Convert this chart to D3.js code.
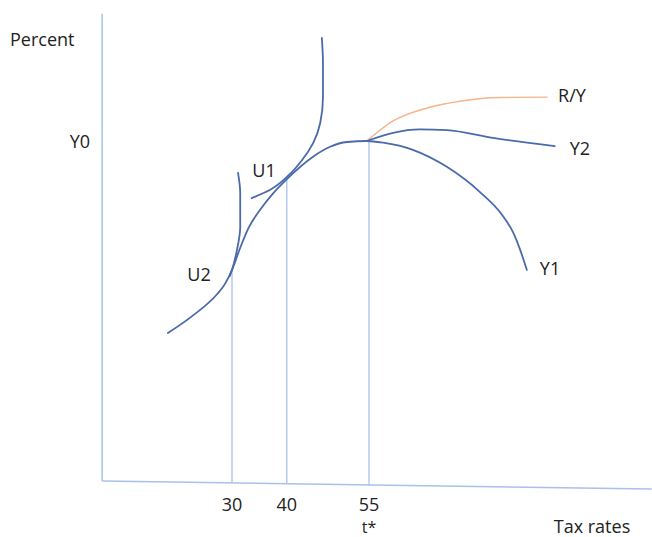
<!DOCTYPE html>
<html>
<head>
<meta charset="utf-8">
<script src="https://cdn.jsdelivr.net/npm/d3@7"></script>
<style>
  html, body { margin: 0; padding: 0; background: #fff; }
  svg text { font-family: "Open Sans", sans-serif; font-size: 18px; fill: #222; }
</style>
</head>
<body>
<svg id="chart" width="652" height="537"></svg>
<script>
// ---- data (tax rate t, percent) ----
const tickRates = [30, 40, 55];
const tickLabels = ["30", "40", "55"];
const optimumLabel = "t*";
const y0Level = 100;

// main curve: rising S through U2 and U1 tangencies, peak at t*, then falling to Y1
const curveY1 = [
  [18.3, 43.5], [22.9, 48.7], [27.3, 55.0], [28.7, 57.9], [30.0, 62.1], [31.5, 68.6],
  [33.0, 74.4], [35.1, 79.7], [37.5, 84.6], [40.2, 89.1], [44.8, 95.4],
  [47.9, 98.3], [51.0, 99.7], [54.6, 100.0], [57.6, 99.5], [63.0, 97.4],
  [69.2, 92.4], [75.3, 84.9], [79.5, 77.8], [81.3, 73.1], [82.6, 67.9], [83.8, 62.1]
];
// Y2 branch from peak
const curveY2 = [
  [54.6, 100.0], [59.4, 102.4], [64.3, 103.4], [69.2, 103.2], [77.6, 100.9], [88.9, 98.5]
];
// revenue share R/Y
const curveRY = [
  [54.6, 100.0], [59.4, 105.9], [65.6, 109.7], [71.6, 111.7], [78.9, 112.8], [87.5, 112.9]
];
// indifference curves
const curveU1 = [
  [33.6, 83.2], [36.9, 85.6], [40.2, 89.7], [42.8, 94.4], [44.8, 99.4],
  [46.1, 105.3], [46.6, 112.9], [46.6, 122.9], [46.4, 130.3]
];
const curveU2 = [
  [31.1, 90.6], [31.5, 84.7], [31.5, 74.7], [30.9, 67.9], [30.0, 62.1], [29.6, 60.3]
];
// drop lines: [rate, height]
const dropLines = [[30, 62.1], [40, 89.1], [55, 100.0]];

// axis extent
const tMin = 6.3, tMax = 106.6;
const pMax = 137.4;
const axisEndDrop = -2.35;   // slight slope of the hand-drawn x axis

// ---- scales ----
const x = d3.scaleLinear().domain([30, 55]).range([232, 369]);
const y = d3.scaleLinear().domain([0, 100]).range([481, 141]);

const svg = d3.select("#chart");
const axisColor = "#a9c0ec";
const curveColor = "#4a6aab";
const orange = "#f5b48a";

const axisP = t => axisEndDrop * (t - tMin) / (tMax - tMin);

// axes
svg.append("line")
  .attr("x1", x(tMin)).attr("y1", y(0))
  .attr("x2", x(tMin)).attr("y2", y(pMax))
  .attr("stroke", axisColor).attr("stroke-width", 1.5);
svg.append("line")
  .attr("x1", x(tMin)).attr("y1", y(0))
  .attr("x2", x(tMax)).attr("y2", y(axisEndDrop))
  .attr("stroke", axisColor).attr("stroke-width", 1.5);

// drop lines
svg.selectAll("line.drop").data(dropLines).enter().append("line")
  .attr("class", "drop")
  .attr("x1", d => x(d[0])).attr("x2", d => x(d[0]))
  .attr("y1", d => y(axisP(d[0]))).attr("y2", d => y(d[1]))
  .attr("stroke", axisColor).attr("stroke-width", 1.3);

const lineX = d3.line().x(d => x(d[0])).y(d => y(d[1])).curve(d3.curveMonotoneX);
const lineY = d3.line().x(d => x(d[0])).y(d => y(d[1])).curve(d3.curveMonotoneY);

const curves = [
  { pts: curveRY, color: orange, w: 1.4, gen: lineX },
  { pts: curveY1, color: curveColor, w: 1.8, gen: lineX },
  { pts: curveY2, color: curveColor, w: 1.8, gen: lineX },
  { pts: curveU1, color: curveColor, w: 1.8, gen: lineY },
  { pts: curveU2, color: curveColor, w: 1.8, gen: lineY }
];
svg.selectAll("path.curve").data(curves).enter().append("path")
  .attr("class", "curve")
  .attr("d", d => d.gen(d.pts))
  .attr("fill", "none")
  .attr("stroke", d => d.color)
  .attr("stroke-width", d => d.w)
  .attr("stroke-linecap", "round");

// tick labels
svg.selectAll("text.tick").data(tickRates).enter().append("text")
  .attr("class", "tick")
  .attr("x", d => x(d)).attr("y", 511)
  .attr("text-anchor", "middle")
  .text((d, i) => tickLabels[i]);
svg.append("text").attr("x", x(55)).attr("y", 533).attr("text-anchor", "middle")
  .style("font-size", "16px").text(optimumLabel);

// axis titles
svg.append("text").attr("x", 10).attr("y", 46).text("Percent");
svg.append("text").attr("x", 592).attr("y", 533).attr("text-anchor", "middle").text("Tax rates");
svg.append("text").attr("x", 90).attr("y", y(y0Level) + 7).attr("text-anchor", "end").text("Y0");

// curve labels
const lastOf = a => a[a.length - 1];
svg.append("text").attr("x", x(lastOf(curveRY)[0]) + 11).attr("y", y(lastOf(curveRY)[1]) + 5).text("R/Y");
svg.append("text").attr("x", x(lastOf(curveY2)[0]) + 15).attr("y", y(lastOf(curveY2)[1]) + 9).text("Y2");
svg.append("text").attr("x", x(lastOf(curveY1)[0]) + 13).attr("y", y(lastOf(curveY1)[1]) + 5).text("Y1");
svg.append("text").attr("x", 264).attr("y", 177).attr("text-anchor", "middle").text("U1");
svg.append("text").attr("x", 199).attr("y", 281).attr("text-anchor", "middle").text("U2");
</script>
</body>
</html>
